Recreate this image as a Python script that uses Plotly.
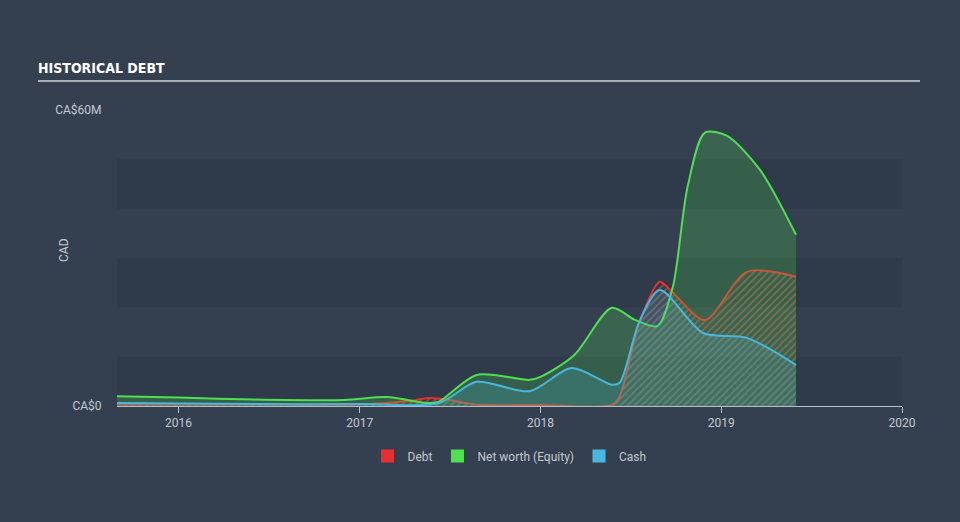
import plotly.graph_objects as go

# ---- data (CA$ millions) ----
equity_dates = ["2015-08-30", "2016-01-01", "2016-06-01", "2016-12-01", "2017-02-25",
                "2017-05-20", "2017-06-10", "2017-08-25", "2017-12-10", "2018-01-01",
                "2018-03-10", "2018-05-25", "2018-07-10", "2018-08-25", "2018-09-25",
                "2018-10-25", "2018-11-29", "2019-01-12", "2019-03-20", "2019-06-01"]
equity_vals = [2.0, 1.7, 1.3, 1.2, 1.8,
               0.6, 0.9, 6.3, 5.3, 5.9,
               10.3, 19.9, 17.5, 16.2, 24.0,
               44.4, 55.4, 54.8, 47.9, 34.7]

debt_dates = ["2015-08-30", "2016-06-01", "2017-01-01", "2017-04-10", "2017-05-20",
              "2017-07-01", "2017-08-20", "2018-01-01", "2018-05-25", "2018-06-10",
              "2018-07-20", "2018-08-30", "2018-09-25", "2018-11-29", "2019-02-22",
              "2019-06-01"]
debt_vals = [0.3, 0.3, 0.3, 1.0, 1.6,
             1.2, 0.3, 0.2, 0.2, 2.0,
             17.0, 25.2, 23.0, 17.4, 27.2,
             26.2]

cash_dates = ["2015-08-30", "2016-06-01", "2017-01-01", "2017-06-10", "2017-08-25",
              "2017-12-10", "2018-03-05", "2018-05-25", "2018-06-10", "2018-07-20",
              "2018-08-30", "2018-11-25", "2019-02-22", "2019-06-01"]
cash_vals = [0.6, 0.4, 0.4, 0.6, 4.9,
             3.0, 7.7, 4.3, 4.7, 17.2,
             23.5, 14.8, 13.8, 8.3]

year_ticks = ["2016-01-01", "2017-01-01", "2018-01-01", "2019-01-01", "2020-01-01"]
year_labels = ["2016", "2017", "2018", "2019", "2020"]
y_ticks = [0, 60]
y_labels = ["CA$0", "CA$60M"]
bands = [(0, 10), (20, 30), (40, 50)]

BG = "#344050"
BAND = "#2f3b4a"
RED = "#e8302f"
GREEN = "#4fe04f"
BLUE = "#48b7dd"
TXT = "#c3c9d1"

fig = go.Figure()

fig.add_trace(go.Scatter(
    x=debt_dates, y=debt_vals, mode="lines", name="Debt", showlegend=False,
    line=dict(color=RED, width=2, shape="spline", smoothing=0.8),
    fill="tozeroy", fillcolor="rgba(0,0,0,0)",
    fillpattern=dict(shape="/", fgcolor="rgba(232,105,75,0.95)", bgcolor="rgba(0,0,0,0)",
                     size=5, solidity=0.35),
    hoverinfo="skip"))
fig.add_trace(go.Scatter(
    x=equity_dates, y=equity_vals, mode="lines", name="Net worth (Equity)", showlegend=False,
    line=dict(color=GREEN, width=2, shape="spline", smoothing=0.8),
    fill="tozeroy", fillcolor="rgba(80,225,80,0.22)", hoverinfo="skip"))
fig.add_trace(go.Scatter(
    x=cash_dates, y=cash_vals, mode="lines", name="Cash", showlegend=False,
    line=dict(color=BLUE, width=2, shape="spline", smoothing=0.8),
    fill="tozeroy", fillcolor="rgba(72,183,221,0.2)", hoverinfo="skip"))

for name, col in [("Debt", RED), ("Net worth (Equity)", GREEN), ("Cash", BLUE)]:
    fig.add_trace(go.Scatter(x=[None], y=[None], mode="markers", name=name,
                             marker=dict(symbol="square", size=13, color=col)))

shapes = []
for lo, hi in bands:
    shapes.append(dict(type="rect", xref="paper", yref="y", x0=0, x1=1, y0=lo, y1=hi,
                       fillcolor=BAND, line=dict(width=0), layer="below"))
shapes.append(dict(type="line", xref="paper", yref="paper",
                   x0=(38 - 117) / 785, x1=(920 - 117) / 785, y0=(406 - 81) / 296, y1=(406 - 81) / 296,
                   line=dict(color="#aab0b8", width=2)))

fig.update_layout(
    width=960, height=522,
    paper_bgcolor=BG, plot_bgcolor="rgba(0,0,0,0)",
    margin=dict(l=117, r=58, t=110, b=116),
    font=dict(family="Roboto, sans-serif", color=TXT, size=12),
    title=dict(text="<b>HISTORICAL DEBT</b>", x=38 / 960, xanchor="left",
               y=1 - 68 / 522, yanchor="middle", yref="container",
               font=dict(family="DejaVu Sans Condensed, sans-serif",
                         size=14, color="#ffffff")),
    shapes=shapes,
    showlegend=True,
    legend=dict(orientation="h", x=0.5, xanchor="center", y=-50 / 296, yanchor="middle",
                font=dict(size=12, color=TXT), bgcolor="rgba(0,0,0,0)", itemwidth=30),
    annotations=[dict(text="CAD", xref="paper", yref="paper", x=(55 - 117) / 785,
                      y=(406 - 250) / 296, showarrow=False, textangle=-90,
                      font=dict(size=12, color=TXT))],
)
fig.update_xaxes(type="date", range=["2015-08-30", "2020-01-01"],
                 tickvals=year_ticks, ticktext=year_labels,
                 showgrid=False, zeroline=False, showline=True, linecolor="#b8bec6", linewidth=1,
                 ticks="outside", ticklen=6, tickcolor="#b8bec6", fixedrange=True)
fig.update_yaxes(range=[0, 60], tickvals=y_ticks, ticktext=y_labels,
                 showgrid=False, zeroline=False, showline=False,
                 ticks="outside", ticklen=12, tickcolor="rgba(0,0,0,0)", fixedrange=True)

fig.write_html("out.html", config={"displayModeBar": False},
               post_script="document.body.style.margin='0';")
